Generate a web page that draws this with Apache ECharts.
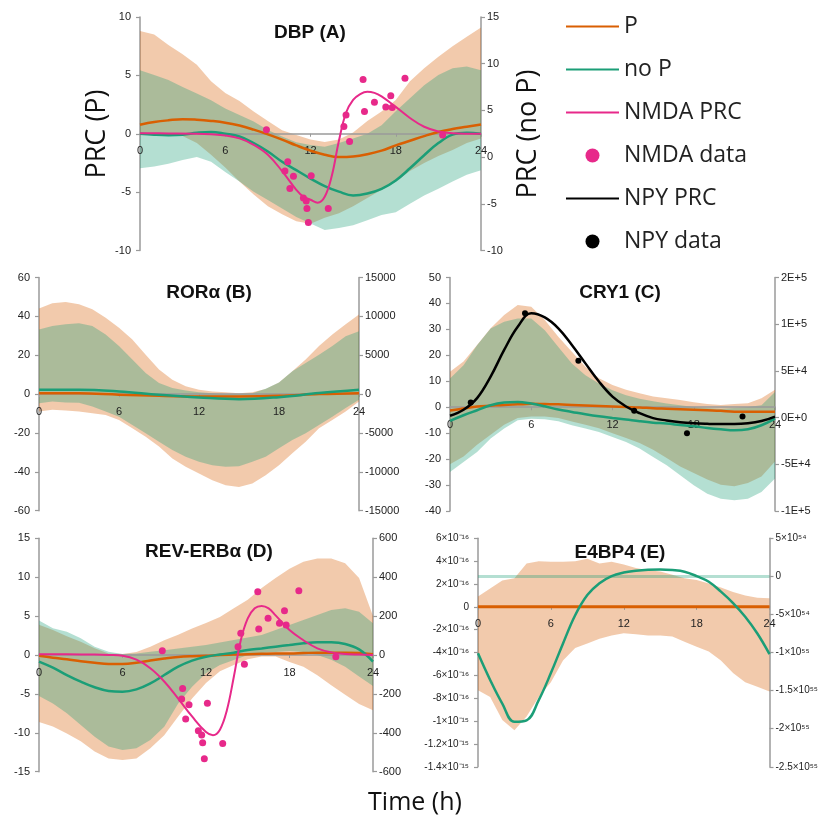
<!DOCTYPE html>
<html lang="en">
<head>
<meta charset="utf-8">
<title>PRC panels</title>
<script src="https://cdn.jsdelivr.net/npm/echarts@6/dist/echarts.min.js"></script>
<style>
  html, body { margin: 0; padding: 0; background: #fff; }
  #main { width: 828px; height: 823px; }
</style>
</head>
<body>
<div id="main"></div>
<script>
// ---- data ----
var hours = [0,1,2,3,4,5,6,7,8,9,10,11,12,13,14,15,16,17,18,19,20,21,22,23,24];

// DBP (A): P on left axis, no P on right axis
var dbpPHi   = [8.8,8.5,7.6,6.8,5.9,4.5,3.5,2.8,1.9,1.1,0.3,-0.1,-0.5,-0.7,-0.5,0.1,1.1,1.9,2.9,4.5,5.6,6.6,7.5,8.3,9.1];
var dbpPLo   = [-0.1,-0.1,-0.1,-0.2,-0.8,-1.8,-2.9,-4.1,-5.2,-6.2,-6.9,-7.5,-7.7,-7.2,-6.8,-6.2,-5.5,-4.8,-4.1,-3.2,-2.5,-1.9,-1.4,-0.8,-0.4];
var dbpNoPHi = [9.3,8.8,8.25,7.5,6.8,6.1,5.2,4.5,3.8,2.9,2.2,1.6,1.3,1.1,1.5,2.0,2.5,3.4,4.9,6.3,7.7,8.8,9.5,9.7,9.3];
var dbpNoPLo = [-1.2,-1.0,-0.7,-0.3,0.0,-0.5,-1.6,-2.6,-3.7,-4.6,-5.5,-6.4,-7.1,-7.8,-7.6,-7.3,-6.75,-6.2,-5.9,-5.0,-4.1,-3.4,-2.6,-1.9,-1.4];
var dbpP     = [0.77,1.0,1.15,1.25,1.2,1.1,0.95,0.7,0.35,-0.05,-0.5,-1.0,-1.45,-1.8,-2.0,-1.95,-1.75,-1.45,-1.0,-0.6,-0.2,0.15,0.4,0.6,0.8];
var dbpNoP   = [2.5,2.4,2.35,2.4,2.6,2.7,2.5,2.2,1.5,0.6,-0.5,-1.4,-2.3,-3.1,-3.7,-4.1,-3.9,-3.4,-2.5,-1.2,0.2,1.5,2.4,2.6,2.5];
var dbpNmdaT = [0,2,4,5,6,7,8,9,10,11,11.5,12,12.5,13,13.5,14,14.5,15,15.5,16,16.5,17,18,19,20,21,22,24];
var dbpNmda  = [0.05,0.03,0,-0.05,-0.15,-0.4,-0.95,-1.8,-3.2,-4.8,-5.4,-5.65,-5.9,-5.4,-3.6,-0.6,1.8,2.9,3.4,3.6,3.5,3.2,2.3,1.35,0.6,0.2,0.05,0];
var dbpNmdaData = [[8.9,0.34],[10.2,-3.2],[10.4,-2.4],[10.55,-4.7],[10.8,-3.65],[11.5,-5.5],[11.7,-5.75],[11.75,-6.4],
  [11.85,-7.6],[12.05,-3.6],[13.25,-6.4],[14.35,0.63],[14.5,1.6],[14.75,-0.66],[15.7,4.65],[15.8,1.9],[16.5,2.7],
  [17.3,2.3],[17.65,3.25],[17.75,2.25],[18.65,4.75],[21.3,-0.1]];

// RORa (B)
var rorPHi   = [44,46.7,47.4,46.2,43.6,39.3,34.1,28.1,20.3,12.6,7.4,4.0,2.2,1.4,0.9,0.5,0.9,2.6,6.0,11.7,17.8,24.7,30.7,35.9,41];
var rorPLo   = [-9,-8.1,-8.4,-9,-9.8,-10.7,-13.3,-17.6,-21.9,-27,-33.1,-37.4,-40.9,-44.3,-46.9,-47.8,-46,-41.7,-36.6,-30.5,-24.5,-17.6,-13.3,-9,-3.8];
var rorNoPHi = [8300,8750,8975,9100,8750,7675,6175,4450,2725,1425,775,475,225,125,0,0,125,700,1500,2925,4000,5075,6175,7450,8100];
var rorNoPLo = [-1175,-950,-1075,-1125,-1600,-2250,-2900,-3975,-5050,-6125,-7200,-8050,-8700,-9150,-9350,-9275,-8700,-8050,-6975,-5900,-5050,-3975,-2900,-1800,-725];
var rorLineT = [0,3,6,9,12,15,18,21,24];
var rorP     = [0.5,0.4,-0.3,-0.9,-1.2,-1.2,-0.9,0,0.5];
var rorNoP   = [560,560,345,-86,-430,-650,-390,130,560];

// CRY1 (C)
var cryPHi   = [13.7,17.6,24,30.4,35.5,39.4,38.7,33.6,27.2,21.4,15.6,11.2,8.6,6.7,5.4,4.1,3.5,2.8,1.9,1.2,0.9,1.2,1.5,3.5,6.7];
var cryPLo   = [-22,-19,-14.5,-10.6,-6.8,-4.2,-3.6,-3.6,-4.2,-5.5,-6.8,-8.1,-10,-11.9,-13.8,-16.4,-19.6,-22.8,-25.4,-27.9,-29.9,-30.5,-29.2,-26.7,-20.9];
var cryNoPHi = [41800,56000,77500,95300,102500,106000,106000,93500,75700,57800,45300,36400,29300,23900,20300,17500,15000,13200,11400,10400,9600,10400,11400,13200,27500];
var cryNoPLo = [-58200,-47500,-36800,-22500,-11800,-2900,-1100,-1800,-3900,-8200,-11800,-15400,-20700,-26100,-33200,-42100,-51100,-61800,-72500,-81400,-86800,-88600,-86800,-79600,-65300];
var cryP     = [-1.3,-0.5,0.3,0.6,0.9,1.1,1.3,1.2,1.1,0.9,0.7,0.5,0.3,0.1,-0.1,-0.4,-0.6,-0.8,-1.0,-1.2,-1.4,-1.7,-1.7,-1.7,-1.7];
var cryNoP   = [-3600,2500,7900,13200,16100,16800,15000,12100,8600,6100,3600,1400,-400,-2100,-3900,-5400,-6400,-7900,-9300,-11100,-12500,-13600,-12500,-8200,-1100];
var cryNpy   = [-3.3,-1.0,3.5,11.8,22.1,31,36.2,34.6,30.4,24,16.9,9.9,4.1,0.3,-2.3,-4.2,-5.1,-5.8,-6.2,-6.4,-6.5,-6.5,-6.2,-5.3,-3.6];
var cryNpyData = [[1.53,1.8],[5.54,36.2],[9.48,17.9],[13.6,-1.4],[17.5,-10],[21.6,-3.6]];

// REV-ERBa (D)
var revPHi   = [3.9,3.2,2.4,1.7,0.86,0.2,0.13,0.4,1.07,1.9,2.6,3.4,4.1,4.9,6.0,7.1,8.6,9.9,11.1,12.0,12.4,12.4,11.8,9.9,5.0];
var revPLo   = [-8.6,-9.2,-10.1,-11.1,-12.4,-13.3,-13.5,-13.3,-12.0,-10.3,-7.9,-5.6,-3.6,-2.1,-1.3,-0.55,-0.2,-0.2,-0.9,-1.5,-2.6,-3.9,-5.1,-6.3,-7.1];
var revNoPHi = [177,137,120,86,43,17,5,8,17,25,34,42,51,64,77,90,103,128,154,180,206,231,240,223,163];
var revNoPLo = [-211,-249,-300,-360,-420,-471,-489,-480,-437,-369,-249,-163,-94,-51,-26,0,10,15,20,15,0,-25,-60,-110,-160];
var revP     = [-0.1,-0.35,-0.55,-0.8,-1.0,-1.15,-1.15,-1.0,-0.7,-0.45,-0.25,-0.15,-0.1,0,0.05,0.1,0.15,0.2,0.2,0.25,0.3,0.3,0.3,0.25,0.1];
var revNoP   = [-34,-65,-103,-137,-166,-185,-189,-177,-146,-103,-60,-29,-9,3,12,26,34,43,51,60,65,65,57,29,-34];
var revNmdaT = [0,2,4,5,6,7,8,9,10,11,12,12.5,13,13.5,14,14.5,15,15.5,16,16.5,17,18,19,20,21,22,23,24];
var revNmda  = [0.1,0.1,0.05,0,-0.1,-0.6,-1.7,-3.4,-5.6,-7.9,-9.9,-10.3,-9.6,-7.1,-2.8,1.9,4.7,6.0,6.3,6.0,5.1,3.2,1.9,0.86,0.34,0.13,0.05,0];
var revNmdaData = [[8.86,0.56],[10.32,-4.29],[10.25,-5.66],[10.78,-6.39],[10.54,-8.23],[11.45,-9.73],[11.69,-10.29],
  [11.76,-11.27],[11.88,-13.33],[12.1,-6.21],[13.2,-11.36],[14.3,1.07],[14.5,2.79],[14.76,-1.2],[15.72,8.14],
  [15.79,3.34],[16.46,4.71],[17.28,4.07],[17.64,5.7],[17.76,3.86],[18.67,8.27],[21.33,-0.21]];

// E4BP4 (E): left values in units of 1e-16, right values in units of 1e54
var e4PHi   = [0.9,1.6,2.3,2.5,3.8,4.0,3.95,3.95,4.0,4.2,3.8,3.95,3.7,3.4,3.2,3.1,2.8,2.5,2.35,2.05,1.7,1.3,1.0,0.8,0.75];
var e4PLo   = [-7.3,-7.9,-9.9,-10.8,-9.6,-7.9,-6.6,-4.7,-3.6,-3.2,-2.8,-2.5,-2.3,-2.4,-2.5,-2.5,-2.6,-3.05,-3.5,-3.9,-4.7,-5.8,-6.6,-7.0,-7.4];
var e4LineT = [0,24];
var e4P     = [0,0];
var e4NoPBand = [0,0];
var e4NoP   = [-10.1,-13.6,-16.7,-19.1,-18.9,-16.25,-12.7,-8.8,-5.1,-2.45,-0.9,0.04,0.5,0.74,0.88,0.92,0.83,0.61,0.04,-0.7,-2.0,-3.5,-5.3,-7.5,-10.2];
var e4LeftLabels = {'6':'6×10⁻¹⁶','4':'4×10⁻¹⁶','2':'2×10⁻¹⁶','0':'0','-2':'-2×10⁻¹⁶','-4':'-4×10⁻¹⁶',
  '-6':'-6×10⁻¹⁶','-8':'-8×10⁻¹⁶','-10':'-1×10⁻¹⁵','-12':'-1.2×10⁻¹⁵','-14':'-1.4×10⁻¹⁵'};
var e4RightLabels = {'5':'5×10⁵⁴','0':'0','-5':'-5×10⁵⁴','-10':'-1×10⁵⁵','-15':'-1.5×10⁵⁵','-20':'-2×10⁵⁵','-25':'-2.5×10⁵⁵'};

// ---- styles ----
var ORANGE = '#d95f02', TEAL = '#1b9e77', PINK = '#e7298a';
var ORANGE_BAND = 'rgba(217,95,2,0.33)', TEAL_BAND = 'rgba(27,158,119,0.33)';
var AXIS_GRAY = '#9a9a9a';
var FONT = '"Liberation Sans", Arial, sans-serif';

function pts(t, v) {
  return t.map(function (x, i) { return [x, v[i]]; });
}

// shaded range between lo and hi, drawn as one polygon through the axes
function band(lo, hi, g, yIdx, color) {
  return {
    type: 'custom', xAxisIndex: g, yAxisIndex: yIdx, silent: true, z: 1,
    data: hours.map(function (t, i) { return [t, lo[i], hi[i]]; }),
    encode: { x: 0, y: [1, 2] },
    renderItem: function (params, api) {
      if (params.dataIndex !== 0) return null;
      var top = hours.map(function (t, i) { return api.coord([t, hi[i]]); });
      var bot = hours.map(function (t, i) { return api.coord([t, lo[i]]); }).reverse();
      return { type: 'polygon', shape: { points: top.concat(bot) }, style: { fill: color } };
    }
  };
}

function line(name, t, v, g, yIdx, color, width) {
  return {
    name: name, type: 'line', xAxisIndex: g, yAxisIndex: yIdx,
    data: pts(t, v), smooth: 0.4, symbol: 'none',
    lineStyle: { color: color, width: width || 2.5 }, itemStyle: { color: color }, z: 4
  };
}

function dots(name, d, g, yIdx, color, size) {
  return {
    name: name, type: 'scatter', xAxisIndex: g, yAxisIndex: yIdx,
    data: d, symbolSize: size, itemStyle: { color: color, opacity: 1 }, z: 5
  };
}

var grids = [
  { left: 140, top: 17, width: 341, height: 233.5 },
  { left: 39, top: 277.5, width: 320, height: 233.2 },
  { left: 450, top: 277.5, width: 325, height: 233.5 },
  { left: 39, top: 538.3, width: 334, height: 233.4 },
  { left: 478, top: 538.3, width: 291.5, height: 228.5 }
];

var yRanges = [
  [-10, 10, 5], [-10, 15, 5],
  [-60, 60, 20], [-15000, 15000, 5000],
  [-40, 50, 10], [-100000, 150000, 50000],
  [-15, 15, 5], [-600, 600, 200],
  [-14, 6, 2], [-25, 5, 5]
];

// time axis sits on the zero of each panel's left axis
var xAxes = grids.map(function (g, i) {
  var r = yRanges[2 * i];
  var lift = g.height * (0 - r[0]) / (r[1] - r[0]);
  return {
    type: 'value', gridIndex: i, position: 'bottom', offset: -lift,
    min: 0, max: 24, interval: 6, z: 3,
    axisLine: { show: true, onZero: false, lineStyle: { color: AXIS_GRAY, width: 1.5 } },
    axisTick: { show: true, length: 3, lineStyle: { color: AXIS_GRAY } },
    axisLabel: { fontSize: 11, color: '#222', fontFamily: FONT, margin: 12 },
    splitLine: { show: false }
  };
});

var yAxes = yRanges.map(function (r, k) {
  var g = Math.floor(k / 2), right = k % 2 === 1;
  var lab = { fontSize: 11, color: '#222', fontFamily: FONT, margin: right ? 6 : 9,
    formatter: function (v) { return String(v); } };
  if (k === 5) lab.formatter = function (v) { return v.toExponential(0).replace('e', 'E'); };
  if (k === 8) { lab.formatter = function (v) { return e4LeftLabels[String(v)] || ''; }; lab.fontSize = 10; }
  if (k === 9) { lab.formatter = function (v) { return e4RightLabels[String(v)] || ''; }; lab.fontSize = 10; }
  return {
    type: 'value', gridIndex: g, position: right ? 'right' : 'left',
    min: r[0], max: r[1], interval: r[2],
    axisLine: { show: true, onZero: false, lineStyle: { color: AXIS_GRAY, width: 1.5 } },
    axisTick: { show: true, length: 4, lineStyle: { color: AXIS_GRAY, width: 1.2 } },
    axisLabel: lab,
    splitLine: { show: false }
  };
});

var series = [
  // A
  band(dbpPLo, dbpPHi, 0, 0, ORANGE_BAND),
  band(dbpNoPLo, dbpNoPHi, 0, 1, TEAL_BAND),
  line('P', hours, dbpP, 0, 0, ORANGE),
  line('no P', hours, dbpNoP, 0, 1, TEAL),
  line('NMDA PRC', dbpNmdaT, dbpNmda, 0, 0, PINK, 2),
  dots('NMDA data', dbpNmdaData, 0, 0, PINK, 7),
  // B
  band(rorPLo, rorPHi, 1, 2, ORANGE_BAND),
  band(rorNoPLo, rorNoPHi, 1, 3, TEAL_BAND),
  line('P', rorLineT, rorP, 1, 2, ORANGE),
  line('no P', rorLineT, rorNoP, 1, 3, TEAL),
  // C
  band(cryPLo, cryPHi, 2, 4, ORANGE_BAND),
  band(cryNoPLo, cryNoPHi, 2, 5, TEAL_BAND),
  line('P', hours, cryP, 2, 4, ORANGE),
  line('no P', hours, cryNoP, 2, 5, TEAL),
  line('NPY PRC', hours, cryNpy, 2, 4, '#000'),
  dots('NPY data', cryNpyData, 2, 4, '#000', 6),
  // D
  band(revPLo, revPHi, 3, 6, ORANGE_BAND),
  band(revNoPLo, revNoPHi, 3, 7, TEAL_BAND),
  line('P', hours, revP, 3, 6, ORANGE),
  line('no P', hours, revNoP, 3, 7, TEAL),
  line('NMDA PRC', revNmdaT, revNmda, 3, 6, PINK, 2),
  dots('NMDA data', revNmdaData, 3, 6, PINK, 7),
  // E
  band(e4PLo, e4PHi, 4, 8, ORANGE_BAND),
  { name: 'e4NoPBand', type: 'line', xAxisIndex: 4, yAxisIndex: 9, data: pts(e4LineT, e4NoPBand),
    symbol: 'none', lineStyle: { color: TEAL_BAND, width: 3 }, silent: true, z: 1 },
  line('P', e4LineT, e4P, 4, 8, ORANGE, 3),
  line('no P', hours, e4NoP, 4, 9, TEAL)
];

function txt(x, y, s, font, rot) {
  return {
    type: 'text', x: x, y: y, rotation: rot || 0, z: 10,
    style: { text: s, font: font, fill: '#111', align: 'center', verticalAlign: 'middle' }
  };
}

var TITLE_FONT = 'bold 19px "Liberation Sans", Arial, sans-serif';
var BIG_FONT = '27px "Open Sans", sans-serif';
var hideDot = { opacity: 0 };

var option = {
  animation: false,
  backgroundColor: '#fff',
  grid: grids,
  xAxis: xAxes,
  yAxis: yAxes,
  legend: {
    data: [
      { name: 'P', itemStyle: hideDot },
      { name: 'no P', itemStyle: hideDot },
      { name: 'NMDA PRC', itemStyle: hideDot },
      { name: 'NMDA data', icon: 'circle' },
      { name: 'NPY PRC', itemStyle: hideDot },
      { name: 'NPY data', icon: 'circle' }
    ],
    orient: 'vertical', left: 565, top: 15, padding: 0,
    itemWidth: 53, itemHeight: 14, itemGap: 20,
    selectedMode: false,
    textStyle: { fontSize: 23, fontFamily: '"Open Sans", sans-serif', color: '#222', padding: [0, 0, 0, 0] }
  },
  graphic: [
    txt(310, 33, 'DBP (A)', TITLE_FONT),
    txt(209, 293, 'RORα (B)', TITLE_FONT),
    txt(620, 293, 'CRY1 (C)', TITLE_FONT),
    txt(209, 552, 'REV-ERBα (D)', TITLE_FONT),
    txt(620, 553, 'E4BP4 (E)', TITLE_FONT),
    txt(97, 134, 'PRC (P)', BIG_FONT, Math.PI / 2),
    txt(528, 134, 'PRC (no P)', BIG_FONT, Math.PI / 2),
    txt(415, 803, 'Time (h)', '25px "Open Sans", sans-serif')
  ],
  series: series
};

var myChart = echarts.init(document.getElementById('main'));
myChart.setOption(option);
</script>
</body>
</html>
